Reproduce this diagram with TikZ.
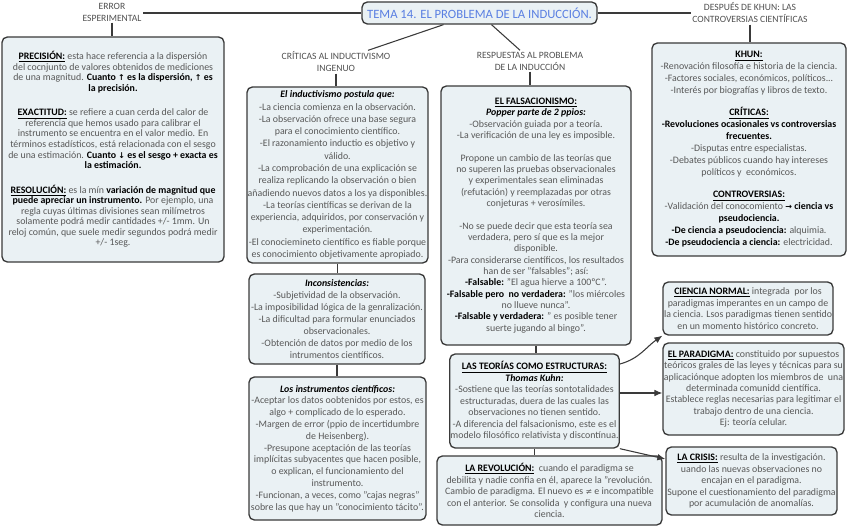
\documentclass[tikz,border=0pt]{standalone}
\usepackage{fontspec}
\setmainfont{Carlito}
\newfontfamily\arrowfont{DejaVu Sans}
\usetikzlibrary{arrows.meta}

\definecolor{boxfill}{HTML}{EAF1F4}
\definecolor{boxline}{HTML}{3A3A3A}
\definecolor{bodytext}{HTML}{585858}
\definecolor{branchtext}{HTML}{505050}
\definecolor{titleblue}{HTML}{5A7FE2}

\newcommand{\uhead}[1]{\textcolor{black}{\underline{\textbf{#1}}}}
\newcommand{\bhead}[1]{\textcolor{black}{\textbf{#1}}}
\newcommand{\ihead}[1]{\textcolor{black}{\textbf{\textit{#1}}}}
\newcommand{\sym}[1]{{\arrowfont\fontsize{6}{6}\selectfont #1}}

\tikzset{
  note/.style={draw=boxline, fill=boxfill, line width=1pt, rounded corners=4pt,
    align=center, inner sep=0.5pt, text=bodytext, font=\fontsize{7.4}{8.7}\selectfont},
  branch/.style={align=center, inner sep=1pt, text=branchtext, font=\fontsize{7.2}{9}\selectfont},
  link/.style={draw=boxline, line width=0.8pt}
}

\begin{document}
\begin{tikzpicture}[x=0.75pt,y=-0.75pt,>={Latex[length=6pt,width=5pt]}]
\useasboundingbox (0,0) rectangle (848,527);

\node[note, text=titleblue, minimum width=176.25pt, minimum height=16.5pt,
  font=\fontsize{9.5}{11}\selectfont] (title) at (479.5,13) {TEMA 14. EL PROBLEMA DE LA INDUCCIÓN.};

\node[branch] (errlbl) at (112,12) {ERROR\\ESPERIMENTAL};
\node[branch] (critlbl) at (336,62) {CRÍTICAS AL INDUCTIVISMO\\INGENUO};
\node[branch] (resplbl) at (530,61) {RESPUESTAS AL PROBLEMA\\DE LA INDUCCIÓN};
\node[branch] (khunlbl) at (750,13) {DESPUÉS DE KHUN: LAS\\CONTROVERSIAS CIENTÍFICAS};

% error experimental
\node[note, minimum width=166.5pt, minimum height=168.75pt, font=\fontsize{7.4}{7.9}\selectfont] (prec) at (113,149.5) {
\uhead{PRECISIÓN:} esta hace referencia a la dispersión\\
del cocnjunto de valores obtenidos de mediciones\\
de una magnitud. \bhead{Cuanto \sym{↑} es la dispersión, \sym{↑} es}\\
\bhead{la precisión.}\\[10.5pt]
\uhead{EXACTITUD:} se refiere a cuan cerda del calor de\\
referencia que hemos usado para calibrar el\\
instrumento se encuentra en el valor medio. En\\
términos estadísticos, está relacionada con el sesgo\\
de una estimación. \bhead{Cuanto \sym{↓} es el sesgo + exacta es}\\
\bhead{la estimación.}\\[10.5pt]
\uhead{RESOLUCIÓN:} es la mín \bhead{variación de magnitud que}\\
\bhead{puede apreciar un instrumento.} Por ejemplo, una\\
regla cuyas últimas divisiones sean milímetros\\
solamente podrá medir cantidades +/- 1mm. Un\\
reloj común, que suele medir segundos podrá medir\\
+/- 1seg.};

% criticas al inductivismo
\node[note, minimum width=135.75pt, minimum height=132pt, font=\fontsize{7.4}{9.2}\selectfont] (induct) at (337.5,175) {
\ihead{El inductivismo postula que:}\\
-La ciencia comienza en la observación.\\
-La observación ofrece una base segura\\
para el conocimiento científico.\\
-El razonamiento inductio es objetivo y\\
válido.\\
-La comprobación de una explicación se\\
realiza replicando la observación o bien\\
añadiendo nuevos datos a los ya disponibles.\\
-La teorías científicas se derivan de la\\
experiencia, adquiridos, por conservación y\\
experimentación.\\
-El conociemineto científico es fiable porque\\
es conocimiento objetivamente apropiado.};

\node[note, minimum width=132pt, minimum height=67.5pt, font=\fontsize{7.4}{9.1}\selectfont] (incons) at (337,319) {
\ihead{Inconsistencias:}\\
-Subjetividad de la observación.\\
-La imposibilidad lógica de la genralización.\\
-La dificultad para formular enunciados\\
observacionales.\\
-Obtención de datos por medio de los\\
intrumentos científicos.};

\node[note, minimum width=132.75pt, minimum height=107.25pt, font=\fontsize{7.4}{8.85}\selectfont] (instr) at (337.5,448.5) {
\ihead{Los instrumentos científicos:}\\
-Aceptar los datos oobtenidos por estos, es\\
algo + complicado de lo esperado.\\
-Margen de error (ppio de incertidumbre\\
de Heisenberg).\\
-Presupone aceptación de las teorías\\
implícitas subyacentes que hacen posible,\\
o explican, el funcionamiento del\\
instrumento.\\
-Funcionan, a veces, como "cajas negras"\\
sobre las que hay un "conocimiento tácito".};

% respuestas al problema
\node[note, minimum width=142.5pt, minimum height=194.25pt, font=\fontsize{7.4}{8.5}\selectfont] (fals) at (536,215.5) {
\uhead{EL FALSACIONISMO:}\\
\ihead{Popper parte de 2 ppios:}\\
-Observación guiada por a teoría.\\
-La verificación de una ley es imposible.\\[8.5pt]
Propone un cambio de las teorías que\\
no superen las pruebas observacionales\\
y experimentales sean eliminadas\\
(refutación) y reemplazadas por otras\\
conjeturas + verosímiles.\\[8.5pt]
-No se puede decir que esta teoría sea\\
verdadera, pero sí que es la mejor\\
disponible.\\
-Para considerarse científicos, los resultados\\
han de ser "falsables"; así:\\
\bhead{-Falsable:} "El agua hierve a 100ºC".\\
\bhead{-Falsable pero\ \ no verdadera:} "los miércoles\\
no llueve nunca".\\
\bhead{-Falsable y verdadera:} " es posible tener\\
suerte jugando al bingo".};

\node[note, minimum width=126.75pt, minimum height=70.5pt, font=\fontsize{7.4}{8.6}\selectfont] (teor) at (534.5,401) {
\uhead{LAS TEORÍAS COMO ESTRUCTURAS:}\\
\ihead{Thomas Kuhn:}\\
-Sostiene que las teorías sontotalidades\\
estructuradas, duera de las cuales las\\
observaciones no tienen sentido.\\
-A diferencia del falsacionismo, este es el\\
modelo filosófico relativista y discontínua.};

\node[note, minimum width=168.75pt, minimum height=51.75pt, font=\fontsize{7.4}{8.6}\selectfont] (revol) at (549.5,490.5) {
\uhead{LA REVOLUCIÓN:}\ \ cuando el paradigma se\\
debilita y nadie confia en él, aparece la "revolución.\\
Cambio de paradigma. El nuevo es \sym{≠} e incompatible\\
con el anterior. Se consolida\ \ y configura una nueva\\
ciencia.};

% despues de khun
\node[note, minimum width=145.5pt, minimum height=159.75pt, font=\fontsize{7.4}{9}\selectfont] (khun) at (749,149.5) {
\uhead{KHUN:}\\
-Renovación filosofía e historia de la ciencia.\\
-Factores sociales, económicos, políticos...\\
-Interés por biografías y libros de texto.\\[7.5pt]
\uhead{CRÍTICAS:}\\
\bhead{-Revoluciones ocasionales vs controversias}\\
\bhead{frecuentes.}\\
-Disputas entre especialistas.\\
-Debates públicos cuando hay intereses\\
políticos y\ \ económicos.\\[7.5pt]
\uhead{CONTROVERSIAS:}\\
-Validación del conocomiento \bhead{\sym{→} ciencia vs}\\
\bhead{pseudociencia.}\\
\bhead{-De ciencia a pseudociencia:} alquimia.\\
\bhead{-De pseudociencia a ciencia:} electricidad.};

\node[note, minimum width=127.5pt, minimum height=39.75pt, font=\fontsize{7.4}{8.8}\selectfont] (normal) at (748,308.5) {
\uhead{CIENCIA NORMAL:} integrada\ \ por los\\
paradigmas imperantes en un campo de\\
la ciencia. Lsos paradigmas tienen sentido\\
en un momento histórico concreto.};

\node[note, minimum width=135.75pt, minimum height=69pt, font=\fontsize{7.4}{8.5}\selectfont] (parad) at (753.5,389) {
\uhead{EL PARADIGMA:} constituido por supuestos\\
teóricos grales de las leyes y técnicas para su\\
aplicaciónque adopten los miembros de\ \ una\\
determinada comunidd científica.\\
Establece reglas necesarias para legitimar el\\
trabajo dentro de una ciencia.\\
Ej: teoría celular.};

\node[note, minimum width=128.25pt, minimum height=51pt, font=\fontsize{7.4}{8.6}\selectfont] (crisis) at (751.5,481) {
\uhead{LA CRISIS:} resulta de la investigación.\\
uando las nuevas observaciones no\\
encajan en el paradigma.\\
Supone el cuestionamiento del paradigma\\
por acumulación de anomalías.};

% connectors
\draw[link] (errlbl.east |- title.west) -- (title.west);
\draw[link] (title.east) -- (khunlbl.west |- title.east);
\draw[link] (errlbl.south) -- (errlbl.south |- prec.north);
\draw[link] ([xshift=-27pt]title.south) -- ([xshift=24pt]critlbl.north);
\draw[link] ([xshift=9pt]title.south) -- ([xshift=-7.5pt]resplbl.north);
\draw[link] (critlbl.south) -- (critlbl.south |- induct.north);
\draw[link] (induct.south) -- (induct.south |- incons.north);
\draw[link] (incons.south) -- (incons.south |- instr.north);
\draw[link] (resplbl.south) -- (resplbl.south |- fals.north);
\draw[link] (fals.south) -- (fals.south |- teor.north);
\draw[link] (teor.south) -- (teor.south |- revol.north);
\draw[link] (khunlbl.south) -- (khunlbl.south |- khun.north);

\draw[link,->] ([yshift=-8pt]teor.north east) to[out=15,in=215] (normal.south west);
\draw[link,->] ([yshift=6pt]teor.east) -- ([yshift=6pt]teor.east -| parad.west);
\draw[link,->] (teor.south east) -- ([yshift=16.5pt]crisis.west);
\end{tikzpicture}
\end{document}
